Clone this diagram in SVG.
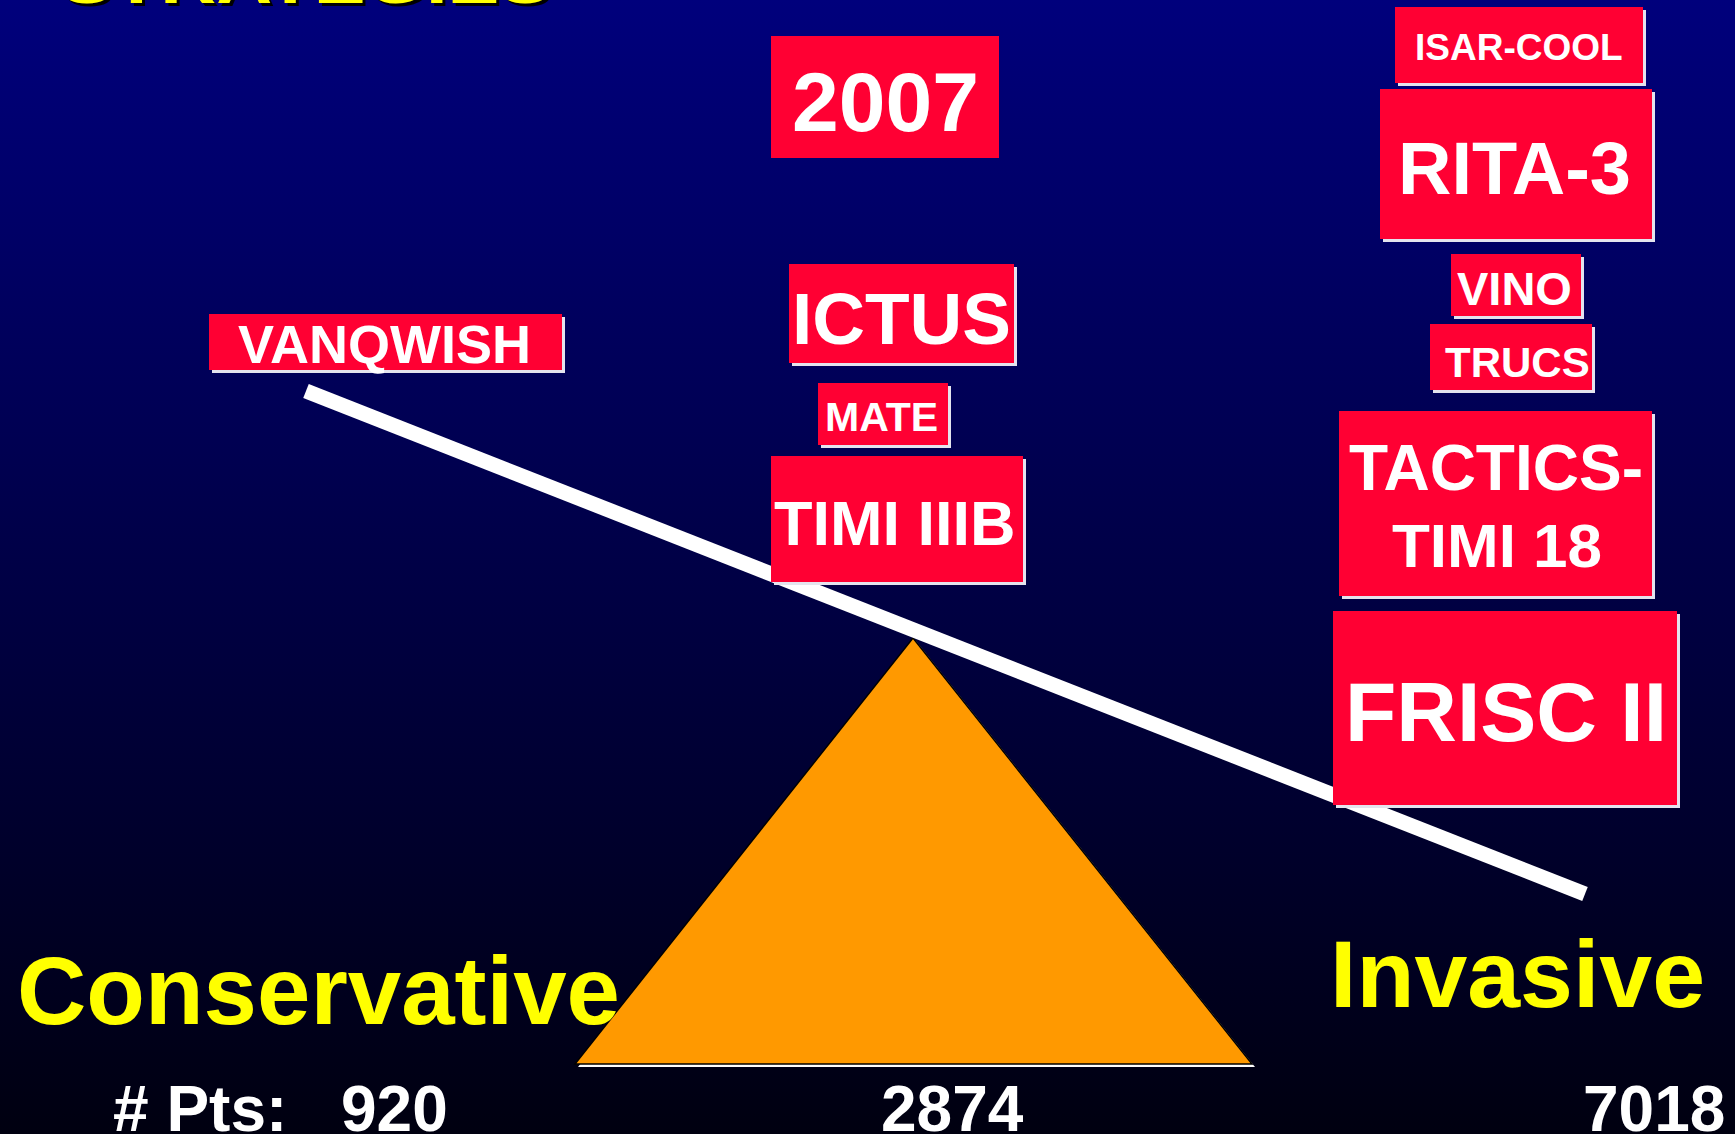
<svg xmlns="http://www.w3.org/2000/svg" width="1735" height="1134" viewBox="0 0 1735 1134">
<defs>
<linearGradient id="bg" x1="0" y1="0" x2="0" y2="1">
<stop offset="0" stop-color="#00007C"/>
<stop offset="1" stop-color="#000010"/>
</linearGradient>
</defs>
<style>
.box{fill:#FF0033}
.sh{fill:#E4E4EE}
.lbl{font-family:"Liberation Sans",Arial,sans-serif;font-weight:bold;fill:#FFFFFF}
.yel{font-family:"Liberation Sans",Arial,sans-serif;font-weight:bold;fill:#FFFF00}
.num{font-family:"Liberation Sans",Arial,sans-serif;font-weight:bold;fill:#FFFFFF}
</style>
<rect x="0" y="0" width="1735" height="1134" fill="url(#bg)"/>

<g id="title">
<text x="64" y="6" font-size="64" textLength="490" lengthAdjust="spacingAndGlyphs" font-family="Liberation Sans, Arial, sans-serif" font-weight="bold" fill="#000000">STRATEGIES</text>
<text x="61" y="3" font-size="64" textLength="490" lengthAdjust="spacingAndGlyphs" class="yel">STRATEGIES</text>
</g>

<g id="fulcrum">
<polygon points="916,641 578,1067 1255,1067" fill="#FFFFFF"/>
<polygon points="913,638 575,1064 1252,1064" fill="#FF9900" stroke="#000000" stroke-width="1.5"/>
</g>

<g id="connectors">
<line x1="306" y1="391" x2="1585" y2="894" stroke="#FFFFFF" stroke-width="15" stroke-linecap="butt"/>
</g>

<g id="vanqwish">
<rect class="sh" x="212" y="317" width="353" height="56"/>
<rect class="box" x="209" y="314" width="353" height="56"/>
<text class="lbl" x="238" y="363" font-size="54">VANQWISH</text>
</g>

<g id="y2007">
<rect class="box" x="771" y="36" width="228" height="122"/>
<text class="lbl" x="792" y="131" font-size="84">2007</text>
</g>

<g id="isarcool">
<rect class="sh" x="1398" y="10" width="248" height="76"/>
<rect class="box" x="1395" y="7" width="248" height="76"/>
<text class="lbl" x="1415" y="60" font-size="37">ISAR-COOL</text>
</g>

<g id="rita3">
<rect class="sh" x="1383" y="92" width="272" height="150"/>
<rect class="box" x="1380" y="89" width="272" height="150"/>
<text class="lbl" x="1398" y="194" font-size="74">RITA-3</text>
</g>

<g id="ictus">
<rect class="sh" x="792" y="267" width="225" height="99"/>
<rect class="box" x="789" y="264" width="225" height="99"/>
<text class="lbl" x="792" y="344" font-size="73">ICTUS</text>
</g>

<g id="mate">
<rect class="sh" x="821" y="386" width="130" height="62"/>
<rect class="box" x="818" y="383" width="130" height="62"/>
<text class="lbl" x="825" y="431" font-size="41">MATE</text>
</g>

<g id="timi3b">
<rect class="sh" x="774" y="459" width="252" height="126"/>
<rect class="box" x="771" y="456" width="252" height="126"/>
<text class="lbl" x="774" y="545" font-size="63">TIMI IIIB</text>
</g>

<g id="vino">
<rect class="sh" x="1454" y="257" width="130" height="62"/>
<rect class="box" x="1451" y="254" width="130" height="62"/>
<text class="lbl" x="1457" y="305" font-size="47">VINO</text>
</g>

<g id="trucs">
<rect class="sh" x="1433" y="327" width="162" height="66"/>
<rect class="box" x="1430" y="324" width="162" height="66"/>
<text class="lbl" x="1445" y="377" font-size="42">TRUCS</text>
</g>

<g id="tactics">
<rect class="sh" x="1342" y="414" width="313" height="185"/>
<rect class="box" x="1339" y="411" width="313" height="185"/>
<text class="lbl" x="1496" y="490" font-size="64" text-anchor="middle">TACTICS-</text>
<text class="lbl" x="1497" y="567" font-size="62" text-anchor="middle">TIMI 18</text>
</g>

<g id="frisc2">
<rect class="sh" x="1336" y="614" width="344" height="194"/>
<rect class="box" x="1333" y="611" width="344" height="194"/>
<text class="lbl" x="1345" y="741" font-size="84">FRISC II</text>
</g>

<g id="labels">
<text class="yel" x="17" y="1024" font-size="96">Conservative</text>
<text class="yel" x="1330" y="1007" font-size="95">Invasive</text>
<text class="num" x="113" y="1131" font-size="64"># Pts:<tspan x="341">920</tspan></text>
<text class="num" x="881" y="1131" font-size="64">2874</text>
<text class="num" x="1583" y="1131" font-size="64">7018</text>
</g>
</svg>
